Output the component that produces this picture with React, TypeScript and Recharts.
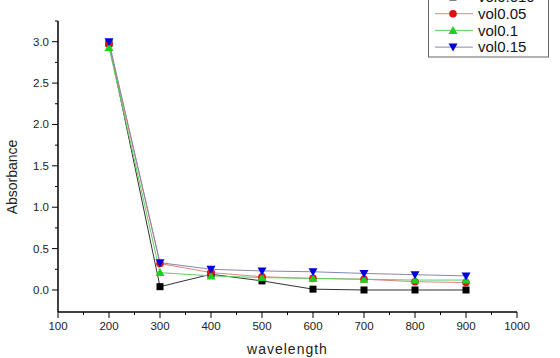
import React from 'react'
import { LineChart, Line, XAxis, YAxis } from 'recharts'

// absorbance vs wavelength for four volume fractions
const wavelengths = [200, 300, 400, 500, 600, 700, 800, 900]
const vol0010 = [2.98, 0.04, 0.19, 0.11, 0.01, 0.0, 0.0, 0.0]
const vol005 = [2.97, 0.32, 0.21, 0.16, 0.14, 0.13, 0.1, 0.09]
const vol01 = [2.93, 0.21, 0.17, 0.15, 0.14, 0.13, 0.12, 0.12]
const vol015 = [3.0, 0.33, 0.25, 0.23, 0.22, 0.2, 0.185, 0.17]

const xTicks = [100, 150, 200, 250, 300, 350, 400, 450, 500, 550, 600, 650, 700, 750, 800, 850, 900, 950, 1000]
const yTicks = [0, 0.25, 0.5, 0.75, 1, 1.25, 1.5, 1.75, 2, 2.25, 2.5, 2.75, 3, 3.25]

const data = wavelengths.map((w, i) => ({
  wavelength: w,
  'vol0.010': vol0010[i],
  'vol0.05': vol005[i],
  'vol0.1': vol01[i],
  'vol0.15': vol015[i],
}))

type Shape = 'square' | 'circle' | 'up' | 'down'

const series: { key: string; line: string; mark: string; shape: Shape }[] = [
  { key: 'vol0.010', line: '#333333', mark: '#000000', shape: 'square' },
  { key: 'vol0.05', line: '#e88080', mark: '#e01010', shape: 'circle' },
  { key: 'vol0.1', line: '#60d060', mark: '#20d020', shape: 'up' },
  { key: 'vol0.15', line: '#8888aa', mark: '#0000d8', shape: 'down' },
]

const font = '"Liberation Sans", Arial, sans-serif'

function Marker({ cx, cy, shape, color }: { cx: number; cy: number; shape: Shape; color: string }) {
  if (cx == null || cy == null) return null
  if (shape === 'square') return <rect x={cx - 3.5} y={cy - 3.5} width={7} height={7} fill={color} />
  if (shape === 'circle') return <circle cx={cx} cy={cy} r={3.8} fill={color} />
  if (shape === 'up') return <polygon points={`${cx},${cy - 4.5} ${cx + 4.5},${cy + 3.5} ${cx - 4.5},${cy + 3.5}`} fill={color} />
  return <polygon points={`${cx},${cy + 4.5} ${cx + 4.5},${cy - 3.5} ${cx - 4.5},${cy - 3.5}`} fill={color} />
}

function YTick(props: any) {
  const { x, y, payload } = props
  const v = payload.value as number
  const major = Math.abs(v * 2 - Math.round(v * 2)) < 1e-6
  return (
    <g>
      <line x1={x - (major ? 6 : 3)} x2={x} y1={y} y2={y} stroke="#000" strokeWidth={1} />
      {major && (
        <text x={x - 9} y={y} dy="0.35em" textAnchor="end" fontSize={11.5} fill="#222" fontFamily={font}>
          {v.toFixed(1)}
        </text>
      )}
    </g>
  )
}

function XTick(props: any) {
  const { x, y, payload } = props
  const v = payload.value as number
  const major = v % 100 === 0
  return (
    <g>
      <line x1={x} x2={x} y1={y} y2={y + (major ? 6 : 3)} stroke="#000" strokeWidth={1} />
      {major && (
        <text x={x} y={y + 14} dy="0.35em" textAnchor="middle" fontSize={11.5} fill="#222" fontFamily={font}>
          {v}
        </text>
      )}
    </g>
  )
}

function LegendBox() {
  return (
    <svg width={122} height={72} style={{ position: 'absolute', left: 428, top: -13 }}>
      <rect x={0.5} y={0.5} width={120} height={69.5} fill="#fff" stroke="#666" />
      {series.map((s, i) => {
        const cy = 10 + i * 16.7
        return (
          <g key={s.key}>
            <line x1={7} x2={45} y1={cy} y2={cy} stroke={s.line} strokeWidth={1} />
            <Marker cx={25} cy={cy} shape={s.shape} color={s.mark} />
            <text x={50} y={cy} dy="0.35em" fontSize={15} fill="#111" fontFamily={font}>
              {s.key}
            </text>
          </g>
        )
      })}
    </svg>
  )
}

export default function App() {
  return (
    <div style={{ position: 'absolute', left: 0, top: 0, width: 560, height: 358, background: '#fff', overflow: 'hidden' }}>
      <LineChart width={560} height={358} data={data} margin={{ top: 21, right: 43, left: 0, bottom: 0 }}>
        <XAxis
          dataKey="wavelength"
          type="number"
          domain={[100, 1000]}
          ticks={xTicks}
          interval={0}
          tickSize={0}
          tickMargin={0}
          tickLine={false}
          tick={<XTick />}
          height={46}
          stroke="#000"
          strokeWidth={1.5}
          label={{ value: 'wavelength', position: 'insideBottom', offset: 4, fontSize: 14, fill: '#222', fontFamily: font, letterSpacing: 1 }}
        />
        <YAxis
          type="number"
          domain={[-0.266, 3.25]}
          ticks={yTicks}
          interval={0}
          tickSize={0}
          tickMargin={0}
          tickLine={false}
          tick={<YTick />}
          width={58}
          stroke="#000"
          strokeWidth={1.5}
          allowDataOverflow
        />
        {series.map((s) => (
          <Line
            key={s.key}
            dataKey={s.key}
            type="linear"
            stroke={s.line}
            strokeWidth={1}
            isAnimationActive={false}
            dot={(p: any) => <Marker key={`${s.key}-${p.index}`} cx={p.cx} cy={p.cy} shape={s.shape} color={s.mark} />}
            activeDot={false}
          />
        ))}
      </LineChart>
      <div
        style={{
          position: 'absolute',
          left: 12,
          top: 177,
          transform: 'translate(-50%, -50%) rotate(-90deg)',
          fontFamily: '"Liberation Sans Narrow", "Arial Narrow", sans-serif',
          fontSize: 14,
          color: '#222',
          whiteSpace: 'nowrap',
        }}
      >
        Absorbance
      </div>
      <LegendBox />
    </div>
  )
}
